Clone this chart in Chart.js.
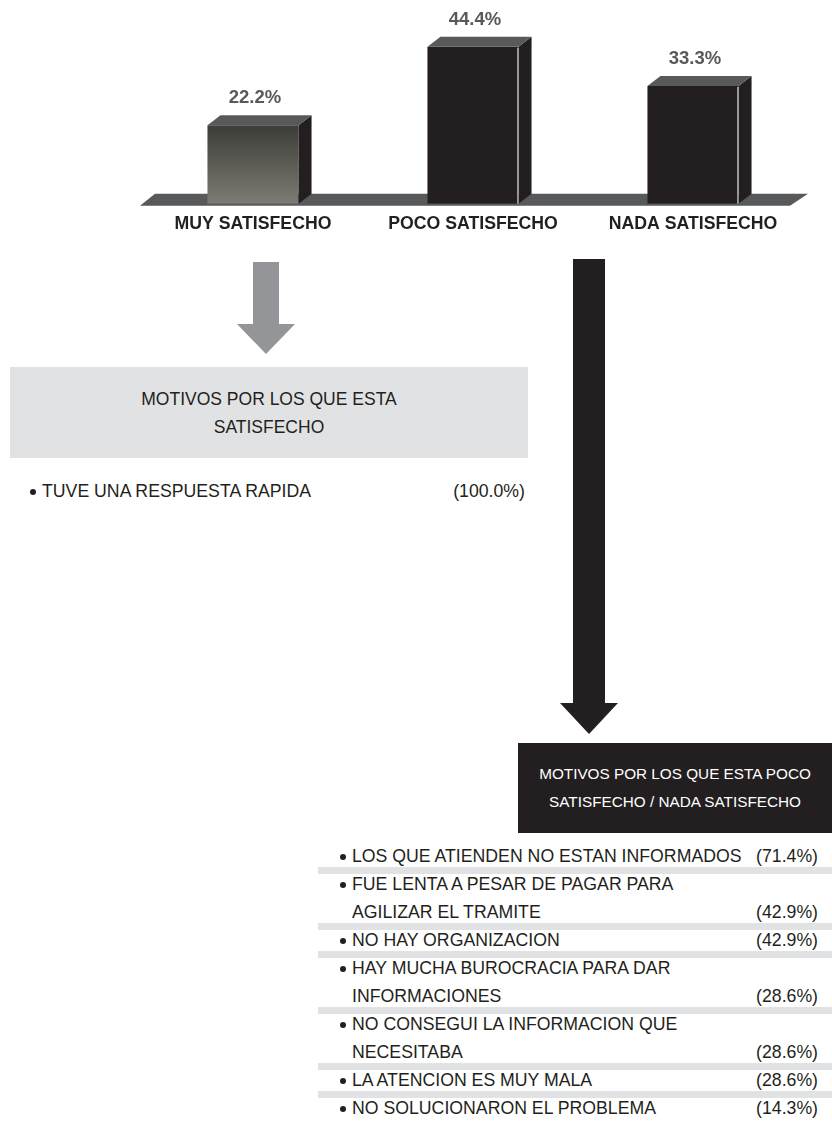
<!DOCTYPE html>
<html>
<head>
<meta charset="utf-8">
<script src="https://cdn.jsdelivr.net/npm/chart.js@4.4.0/dist/chart.umd.min.js"></script>
<style>
  body { margin: 0; background: #fff; font-family: "Liberation Sans", Arial, sans-serif; color: #231f20; }
  #page { position: relative; width: 832px; height: 1123px; overflow: hidden; }
  #chartBox { position: absolute; left: 0; top: 0; width: 832px; height: 250px; }
  .shaft, .head { position: absolute; }
  .head { width: 0; height: 0; border-left: 29.5px solid transparent; border-right: 29.5px solid transparent; }
  .box { position: absolute; display: flex; flex-direction: column; justify-content: center; align-items: center; font-size: 17.5px; line-height: 28px; white-space: nowrap; }
  .box.dark { font-size: 15.3px; background: #231f20; color: #fff; }
  .row { position: absolute; height: 21px; line-height: 21px; font-size: 17.7px; white-space: nowrap; }
  .dot { position: absolute; width: 6px; height: 6px; border-radius: 50%; background: #231f20; top: 8px; }
  .pct { position: absolute; }
  .band { position: absolute; left: 0; right: 0; height: 7px; background: #e1e2e4; }
</style>
</head>
<body>
<div id="page">
  <div id="chartBox"><canvas id="barChart" width="832" height="250"></canvas></div>

  <div class="shaft" style="left:253px; top:262px; width:26px; height:62px; background:#939598;"></div>
  <div class="head" style="left:237px; top:324px; border-top:30px solid #939598;"></div>

  <div class="shaft" style="left:573px; top:259px; width:32px; height:444px; background:#231f20;"></div>
  <div class="head" style="left:559.5px; top:703px; border-top:31px solid #231f20;"></div>

  <div class="box" style="left:10px; top:367px; width:518px; height:91px; background:#e1e2e4;">
    <div>MOTIVOS POR LOS QUE ESTA</div>
    <div>SATISFECHO</div>
  </div>
  <div id="satList"></div>

  <div class="box dark" style="left:518px; top:743px; width:314px; height:90px;">
    <div>MOTIVOS POR LOS QUE ESTA POCO</div>
    <div>SATISFECHO / NADA SATISFECHO</div>
  </div>
  <div id="unsatList" style="position:absolute; left:318px; top:846px; width:514px;"></div>
</div>

<script>
const categories = ["MUY SATISFECHO", "POCO SATISFECHO", "NADA SATISFECHO"];
const satisfaction = [22.2, 44.4, 33.3];

const satisfiedReasons = ["TUVE UNA RESPUESTA RAPIDA"];
const satisfiedShares = [100.0];

const unsatisfiedReasons = [
  ["LOS QUE ATIENDEN NO ESTAN INFORMADOS"],
  ["FUE LENTA A PESAR DE PAGAR PARA", "AGILIZAR EL TRAMITE"],
  ["NO HAY ORGANIZACION"],
  ["HAY MUCHA BUROCRACIA PARA DAR", "INFORMACIONES"],
  ["NO CONSEGUI LA INFORMACION QUE", "NECESITABA"],
  ["LA ATENCION ES MUY MALA"],
  ["NO SOLUCIONARON EL PROBLEMA"],
];
const unsatisfiedShares = [71.4, 42.9, 42.9, 28.6, 28.6, 28.6, 14.3];

const DEPTH_X = 13;
const DEPTH_Y = 10;

// floor under the bars plus the side/top faces and value labels
const bar3d = {
  id: "bar3d",
  beforeDatasetsDraw(chart) {
    const { ctx, chartArea: a } = chart;
    const base = chart.scales.y.getPixelForValue(0);
    ctx.save();
    ctx.fillStyle = "#58595b";
    ctx.beginPath();
    ctx.moveTo(a.left - 3, base + 2);
    ctx.lineTo(a.left + 12, base - 10);
    ctx.lineTo(a.right + 5, base - 10);
    ctx.lineTo(a.right - 13, base + 2);
    ctx.closePath();
    ctx.fill();
    ctx.restore();
  },
  afterDatasetsDraw(chart) {
    const { ctx } = chart;
    const meta = chart.getDatasetMeta(0);
    ctx.save();
    meta.data.forEach((bar, i) => {
      const { x, y, base, width } = bar.getProps(["x", "y", "base", "width"], true);
      const l = x - width / 2;
      const r = x + width / 2;

      ctx.fillStyle = "#231f20";
      ctx.beginPath();
      ctx.moveTo(r, y);
      ctx.lineTo(r + DEPTH_X, y - DEPTH_Y);
      ctx.lineTo(r + DEPTH_X, base - DEPTH_Y);
      ctx.lineTo(r, base);
      ctx.closePath();
      ctx.fill();

      ctx.fillStyle = "#58595b";
      ctx.beginPath();
      ctx.moveTo(l, y);
      ctx.lineTo(l + DEPTH_X, y - DEPTH_Y);
      ctx.lineTo(r + DEPTH_X, y - DEPTH_Y);
      ctx.lineTo(r, y);
      ctx.closePath();
      ctx.fill();

      if (i > 0) {
        ctx.strokeStyle = "#d6d6d6";
        ctx.lineWidth = 1.2;
        ctx.beginPath();
        ctx.moveTo(r - 0.6, y + 1);
        ctx.lineTo(r - 0.6, base);
        ctx.stroke();
      }

      ctx.fillStyle = "#58595b";
      ctx.font = "bold 18.5px 'Liberation Sans', Arial, sans-serif";
      ctx.textAlign = "center";
      ctx.textBaseline = "middle";
      ctx.fillText(satisfaction[i].toFixed(1) + "%", x + 2, y - 27);
    });
    ctx.restore();
  },
};

function frontColor(context) {
  if (context.dataIndex !== 0) return "#231f20";
  const chart = context.chart;
  if (!chart.chartArea) return "#5a5a52";
  const ys = chart.scales.y;
  const g = chart.ctx.createLinearGradient(0, ys.getPixelForValue(satisfaction[0]), 0, ys.getPixelForValue(0));
  g.addColorStop(0, "#3b3d36");
  g.addColorStop(1, "#7d7c74");
  return g;
}

new Chart(document.getElementById("barChart").getContext("2d"), {
  type: "bar",
  data: {
    labels: categories,
    datasets: [{
      data: satisfaction,
      backgroundColor: frontColor,
      borderWidth: 0,
      barPercentage: 0.414,
      categoryPercentage: 1,
    }],
  },
  options: {
    responsive: false,
    animation: false,
    devicePixelRatio: 1,
    layout: { padding: { left: 143, right: 29, top: 0, bottom: 5 } },
    plugins: { legend: { display: false }, tooltip: { enabled: false } },
    scales: {
      x: {
        grid: { display: false, drawTicks: false },
        border: { display: false },
        ticks: {
          padding: 10,
          color: "#231f20",
          font: { family: "'Liberation Sans', Arial, sans-serif", size: 17.7, weight: "bold" },
        },
      },
      y: { display: false, min: 0, max: 57.6 },
    },
  },
  plugins: [bar3d],
});

// reason lists
function addRow(parent, top, left, text, pct, pctRight, withDot) {
  const row = document.createElement("div");
  row.className = "row";
  row.style.top = top + "px";
  row.style.left = "0";
  row.style.right = "0";
  if (withDot) {
    const d = document.createElement("div");
    d.className = "dot";
    d.style.left = (left - 12) + "px";
    row.appendChild(d);
  }
  const t = document.createElement("span");
  t.style.position = "absolute";
  t.style.left = left + "px";
  t.textContent = text;
  row.appendChild(t);
  if (pct !== null) {
    const p = document.createElement("span");
    p.className = "pct";
    p.style.right = pctRight + "px";
    p.textContent = "(" + pct.toFixed(1) + "%)";
    row.appendChild(p);
  }
  parent.appendChild(row);
}

const satList = document.getElementById("satList");
satList.style.cssText = "position:absolute; left:0; top:481px; width:832px;";
satisfiedReasons.forEach((r, i) => {
  addRow(satList, i * 28, 42, r, satisfiedShares[i], 832 - 525, true);
});

const unsatList = document.getElementById("unsatList");
let line = 0;
unsatisfiedReasons.forEach((lines, i) => {
  lines.forEach((txt, j) => {
    const last = j === lines.length - 1;
    addRow(unsatList, line * 28, 34, txt, last ? unsatisfiedShares[i] : null, 14, j === 0);
    if (last && i < unsatisfiedReasons.length - 1) {
      const b = document.createElement("div");
      b.className = "band";
      b.style.top = (line * 28 + 21) + "px";
      unsatList.appendChild(b);
    }
    line++;
  });
});
</script>
</body>
</html>
